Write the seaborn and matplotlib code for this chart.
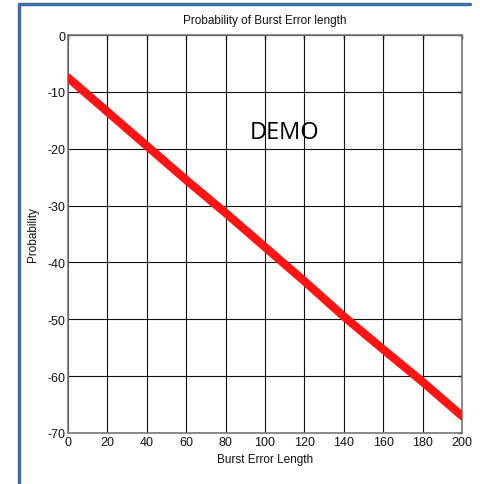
import matplotlib
matplotlib.use("Agg")
import matplotlib.pyplot as plt
from matplotlib.lines import Line2D
import seaborn as sns
import pandas as pd

burst_length = [0, 20, 40, 60, 80, 100, 120, 140, 160, 180, 200]
probability = [-7.5, -13.5, -19.5, -25.5, -31.3, -37.3, -43.3, -49.5, -55.3, -61.0, -67.0]
x_ticks = [0, 20, 40, 60, 80, 100, 120, 140, 160, 180, 200]
y_ticks = [0, -10, -20, -30, -40, -50, -60, -70]

sns.set_theme(style="white")
plt.rcParams['font.family'] = ['Liberation Sans', 'DejaVu Sans']

df = pd.DataFrame({"Burst Error Length": burst_length, "Probability": probability})

fig = plt.figure(figsize=(4.81, 4.85), dpi=100)
ax = fig.add_axes([68/481, 1-434/485, (462-68)/481, (434-36)/485])

sns.lineplot(data=df, x="Burst Error Length", y="Probability", ax=ax,
             color="#ff1414", linewidth=6, zorder=3)

ax.set_xlim(0, 200)
ax.set_ylim(-70, 0)
ax.set_xticks(x_ticks)
ax.set_yticks(y_ticks)
ax.set_xticklabels([str(t) for t in x_ticks])
ax.set_yticklabels([str(t) for t in y_ticks])
ax.grid(True, color="#111111", linewidth=0.8, linestyle="-")
ax.set_axisbelow(True)
for s in ax.spines.values():
    s.set_color("#777777")
    s.set_linewidth(1.2)
ax.tick_params(direction="in", length=3, width=1, colors="#111111",
               top=True, right=True, labelsize=9, pad=2)
ax.set_title("Probability of Burst Error length", fontsize=8.5, pad=9, color="#111111")
ax.set_xlabel("Burst Error Length", fontsize=8.5, labelpad=4, color="#111111")
ax.set_ylabel("Probability", fontsize=8.5, labelpad=6, color="#111111")

ax.text(110, -17, "DEMO", fontsize=17, family=['Open Sans', 'DejaVu Sans'],
        ha="center", va="center", color="#000000", zorder=4)

fig.add_artist(Line2D([19/481, 19/481], [0, 1-5/485], transform=fig.transFigure,
                      color="#3f6ea6", linewidth=2.5))
fig.add_artist(Line2D([19/481, 470/481], [1-5/485, 1-5/485], transform=fig.transFigure,
                      color="#3f6ea6", linewidth=2.5))

fig.savefig("out.png", dpi=100)
